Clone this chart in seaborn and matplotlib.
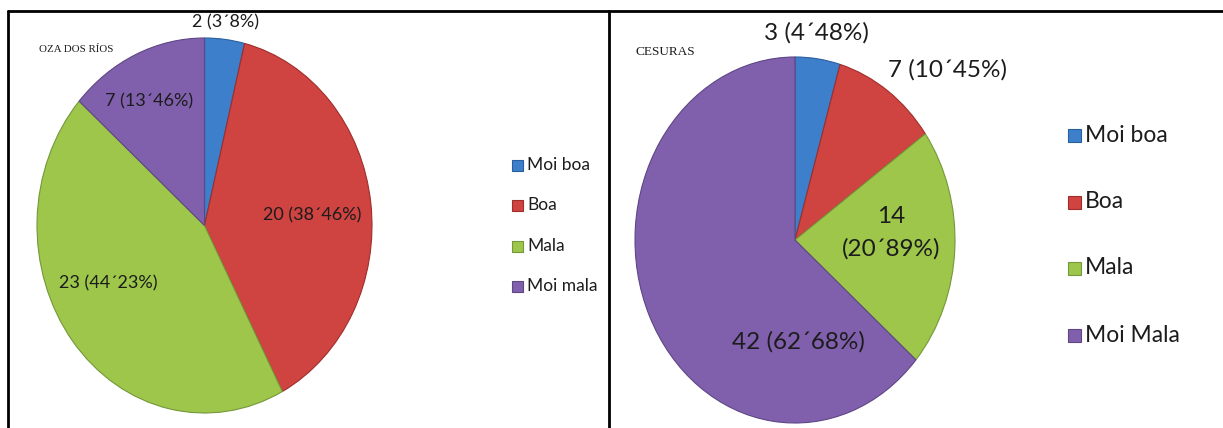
import matplotlib
matplotlib.use("Agg")
import matplotlib.pyplot as plt
import seaborn as sns
from matplotlib.lines import Line2D

sns.set_theme(style="white")
plt.rcParams['font.family'] = ['Lato', 'DejaVu Sans']

# ---- data ----
left_title = "OZA DOS RÍOS"
left_categories = ["Moi boa", "Boa", "Mala", "Moi mala"]
left_counts = [2, 20, 23, 7]
left_pct_labels = ["3´8%", "38´46%", "44´23%", "13´46%"]

right_title = "CESURAS"
right_categories = ["Moi boa", "Boa", "Mala", "Moi Mala"]
right_counts = [3, 7, 14, 42]
right_pct_labels = ["4´48%", "10´45%", "20´89%", "62´68%"]

colors = sns.color_palette(["#3d7fcb", "#cf4340", "#9dc64a", "#8060ad"])
edge_colors = ["#2a5f9e", "#9e2e2c", "#74983a", "#5e4685"]

W, H = 1223, 428
fig = plt.figure(figsize=(W / 100, H / 100), dpi=100)


def px_axes(cx, cy, rx, ry):
    return fig.add_axes([(cx - rx) / W, 1 - (cy + ry) / H, 2 * rx / W, 2 * ry / H])


def fx(x):
    return x / W


def fy(y):
    return 1 - y / H


def draw_pie(ax, counts):
    wedges, _ = ax.pie(counts, colors=colors, startangle=90, counterclock=False,
                       radius=1.0, wedgeprops=dict(linewidth=0.8))
    for w, ec in zip(wedges, edge_colors):
        w.set_edgecolor(ec)
    ax.set_aspect('auto')
    ax.set_xlim(-1, 1)
    ax.set_ylim(-1, 1)
    ax.axis('off')
    return wedges


# left pie
ax1 = px_axes(204.5, 225.5, 167.5, 187.5)
draw_pie(ax1, left_counts)
# right pie
ax2 = px_axes(795, 240, 160, 183)
draw_pie(ax2, right_counts)

txt = "#1c1c1c"
# left labels
lpos = [(226, 22), (312, 215), (108, 283), (149, 101)]
for (x, y), n, p in zip(lpos, left_counts, left_pct_labels):
    fig.text(fx(x), fy(y), f"{n} ({p})", ha='center', va='center', fontsize=13, color=txt)
fig.text(fx(39), fy(49), left_title, ha='left', va='center', fontsize=7.8,
         family='Liberation Serif', color=txt)

# right labels
rpos = [(816, 33), (948, 70), (891, 233), (798, 342)]
for i, ((x, y), n, p) in enumerate(zip(rpos, right_counts, right_pct_labels)):
    label = f"{n}\n({p})" if i == 2 else f"{n} ({p})"
    fig.text(fx(x), fy(y), label, ha='center', va='center', fontsize=17.5,
             color=txt, linespacing=1.65)
fig.text(fx(636), fy(52), right_title, ha='left', va='center', fontsize=9.5,
         family='Liberation Serif', color=txt)


# legends
def draw_legend(x_sq, ys, labels, size_px, fs):
    for y, lab, c, ec in zip(ys, labels, colors, edge_colors):
        fig.patches.append(plt.Rectangle((fx(x_sq), fy(y + size_px / 2)), size_px / W, size_px / H,
                                         transform=fig.transFigure, facecolor=c,
                                         edgecolor=ec, linewidth=0.8))
        fig.text(fx(x_sq + size_px + 4), fy(y), lab, ha='left', va='center',
                 fontsize=fs, color=txt)

draw_legend(512, [165, 205, 246, 286], left_categories, 11, 12.5)
draw_legend(1068, [135, 202, 268, 335], right_categories, 13, 16.5)

# frame lines
lw = 2
fig.add_artist(Line2D([fx(8), 1], [fy(11), fy(11)], color='black', lw=lw))
fig.add_artist(Line2D([fx(8), fx(8)], [fy(11), 0], color='black', lw=lw))
fig.add_artist(Line2D([fx(609), fx(609)], [fy(11), 0], color='black', lw=lw))

fig.savefig("out.png", dpi=100, facecolor='white')
